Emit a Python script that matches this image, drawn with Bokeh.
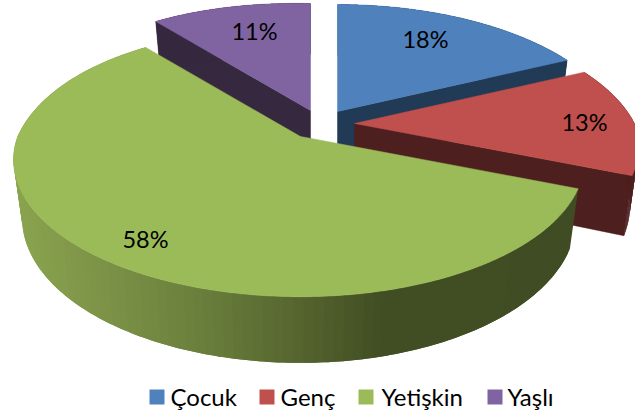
import numpy as np
from bokeh.plotting import figure
from bokeh.embed import file_html
from bokeh.resources import INLINE
from bokeh.core.properties import value

categories = ["Çocuk", "Genç", "Yetişkin", "Yaşlı"]
shares = [18, 13, 58, 11]
top_colors = ["#4f81bd", "#c0504d", "#9bbb59", "#8064a2"]
radial_wall_colors = ["#213b56", "#4e1f1f", "#404c23", "#35283f"]
apex_x = [337, 354, 300, 310]
apex_y = [111, 123, 136, 110]
label_x = [425, 584, 145, 254]
label_y = [38, 121, 238, 30]
legend_box_x = [156.5, 266.5, 365.5, 494.5]
legend_text_x = [170, 280, 381, 507]
draw_order = [3, 0, 1, 2]

S, ST, K_UP, K_DN = 280.0, 133.0, 0.243, 0.17
WALL_DY, WALL_SX, WALL_SY = 57.0, 0.97, 1.057

WALL_X = [20, 100, 200, 300, 380, 640]
WALL_R = [0x89, 0x7d, 0x6a, 0x56, 0x42, 0x40]
WALL_G = [0xa3, 0x93, 0x7f, 0x65, 0x4e, 0x4c]
WALL_B = [0x4e, 0x48, 0x3c, 0x2f, 0x24, 0x23]


def project(theta, ax, ay, bottom=False):
    u, v = np.sin(theta), np.cos(theta)
    w = 1 + np.where(v > 0, K_UP, K_DN) * v
    x, y = S * u / w, -ST * v / w
    # the view sits slightly right of the pie, so the left side spreads a little more
    left = u < 0
    x = np.where(left, x * (1.01 + 0.025 * np.maximum(v, 0)), x)
    y = np.where(left & (v > 0), y * (1 + 0.05 * np.abs(u)), y)
    if bottom:
        return ax + WALL_SX * x, ay + WALL_DY + WALL_SY * y
    return ax + x, ay + y


p = figure(width=635, height=414, x_range=(0, 635), y_range=(414, 0),
           output_backend="svg", toolbar_location=None, min_border=0)
p.axis.visible = False
p.grid.visible = False
p.outline_line_color = None
p.background_fill_color = "white"

edges = np.radians(np.cumsum([0] + shares) * 3.6)

for i in draw_order:
    ax, ay = apex_x[i], apex_y[i]
    th = np.linspace(edges[i], edges[i + 1], 241)
    tx, ty = project(th, ax, ay)
    bx, by = project(th, ax, ay, True)

    # radial side wall seen from above
    if i != 2:
        rad = edges[i + 1] if i != 3 else edges[i]
        cx, cy = project(np.array([rad]), ax, ay)
        dx, dy = project(np.array([rad]), ax, ay, True)
        p.patch([ax, cx[0], dx[0], ax], [ay, cy[0], dy[0], ay + WALL_DY],
                fill_color=radial_wall_colors[i], line_color=radial_wall_colors[i], line_width=0.5)

    # outer rim wall: each strip overlaps the next so no seams show
    step = 2
    for j in range(0, len(th) - 1, step):
        e = min(j + step + 2, len(th) - 1)
        xm = (tx[j] + tx[min(j + step, len(th) - 1)]) / 2
        if i == 2:
            r, g, b = (int(np.interp(xm, WALL_X, c)) for c in (WALL_R, WALL_G, WALL_B))
            col = f"#{r:02x}{g:02x}{b:02x}"
        else:
            col = radial_wall_colors[i]
        p.patch([*tx[j:e + 1], *bx[j:e + 1][::-1]], [*ty[j:e + 1], *by[j:e + 1][::-1]],
                fill_color=col, line_color=None)

    # top face
    p.patch([ax, *tx], [ay, *ty], fill_color=top_colors[i], line_color=top_colors[i], line_width=0.5)

p.text(label_x, label_y, text=[f"{s}%" for s in shares], text_font=value("Lato"),
       text_font_size=value("23.5px"), text_align="center", text_baseline="middle", text_color="#000000")

p.rect(legend_box_x, [396.5] * 4, width=15, height=15, fill_color=top_colors, line_color=None)
p.text(legend_text_x, [396] * 4, text=categories, text_font=value("Lato"),
       text_font_size=value("24px"), text_align="left", text_baseline="middle", text_color="#000000")

open("out.html", "w").write(file_html(p, INLINE))
